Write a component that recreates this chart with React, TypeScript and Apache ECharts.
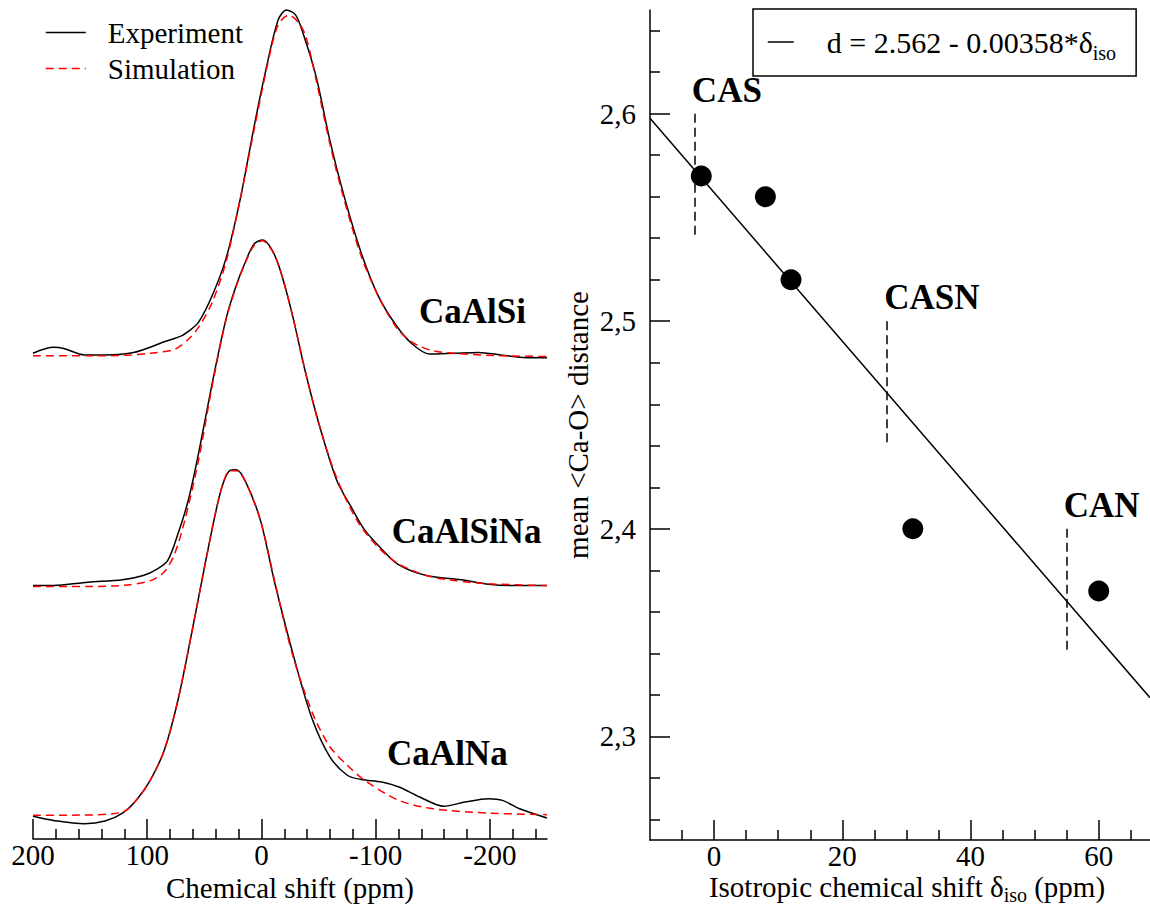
import { useEffect, useRef } from "react";
import * as echarts from "echarts";

const FONT = '"Liberation Serif", "Times New Roman", Times, serif';

// ---------- Left panel: 43Ca MAS NMR spectra ----------
const shiftTicks = [200, 100, 0, -100, -200];
const shiftMinorTicks = [180, 160, 140, 120, 80, 60, 40, 20, -20, -40, -60, -80, -120, -140, -160, -180, -220, -240];

const spectrumNames = ["CaAlSi", "CaAlSiNa", "CaAlNa"];
// vertical stacking of each trace (intensity units)
const spectrumOffsets = [57.6, 30.3, 2.9];
// anchor of each sample label: chemical shift and height above its baseline
const labelShift = [-138, -114, -110];
const labelLift = [5.3, 6.3, 7.3];

// [chemical shift (ppm), intensity]
const caAlSiExp: [number, number][] = [
  [200, 0.3], [182, 1.0], [173, 0.86], [155, 0.1], [137, 0.1], [112, 0.38], [85, 1.66], [70, 2.37],
  [64, 2.9], [55, 4.0], [43, 7.2], [31, 11.6], [19, 18.4], [6.6, 27.2], [-2.5, 33.2], [-14.5, 40.0],
  [-22, 41.2], [-30, 40.6], [-37, 38.2], [-48, 33.2], [-60, 25.6], [-72, 19.2], [-87, 12.4],
  [-102, 7.2], [-118, 3.6], [-132, 1.4], [-147, 0.2], [-169, 0.3], [-190, 0.4], [-211, 0.06],
  [-232, -0.23], [-250, -0.23],
];
const caAlSiSim: [number, number][] = [
  [200, 0], [150, 0], [120, 0.05], [97, 0.3], [76, 0.77], [64, 1.97], [55, 3.4], [43, 6.4], [31, 11.2],
  [19, 18.4], [6.6, 26.8], [-5.5, 34.8], [-14.5, 39.4], [-24, 40.6], [-33, 39.6], [-39, 38.0],
  [-48, 32.8], [-60, 25.2], [-72, 18.8], [-87, 12.0], [-102, 7.2], [-118, 3.4], [-132, 1.6],
  [-151, 0.57], [-181, 0.18], [-211, 0], [-250, -0.1],
];
const caAlSiNaExp: [number, number][] = [
  [200, -0.08], [182, -0.08], [152, 0.31], [121.6, 0.6], [103.5, 1.1], [91, 1.9], [82, 2.9], [73, 6.1],
  [64, 10.1], [55, 15.7], [43, 24.1], [31, 31.7], [22, 35.7], [14, 38.5], [6.6, 40.6], [-1, 41.1],
  [-8.5, 40.1], [-16, 37.7], [-26.5, 32.5], [-38.6, 25.3], [-50.8, 18.95], [-65.8, 12.5], [-78, 9.4],
  [-90, 6.6], [-105, 4.3], [-120, 2.4], [-144.5, 1.1], [-175, 0.6], [-199, 0.07], [-223, -0.1],
  [-250, -0.1],
];
const caAlSiNaSim: [number, number][] = [
  [200, -0.2], [150, -0.2], [120, -0.06], [97, 0.5], [85, 1.55], [76, 3.7], [67, 7.75], [55, 14.9],
  [43, 23.8], [31, 31.6], [22, 35.6], [14, 38.4], [6.6, 40.4], [-1, 41.0], [-8.5, 40.0], [-16, 37.7],
  [-26.5, 32.5], [-38.6, 25.3], [-50.8, 18.95], [-65.8, 12.75], [-84, 7.6], [-102, 4.5], [-120, 2.5],
  [-144.5, 1.1], [-169, 0.5], [-199, 0.12], [-250, -0.1],
];
const caAlNaExp: [number, number][] = [
  [200, -0.2], [182, -0.69], [155, -1.07], [137, -0.76], [121.6, 0.19], [109.6, 1.72], [97.4, 4.1],
  [85, 7.7], [73, 13.7], [61, 21.7], [49, 30.1], [40, 36.1], [34, 39.3], [27.8, 41.0], [21.8, 41.1],
  [12.6, 39.3], [0.5, 34.9], [-11.5, 27.7], [-29.7, 18.1], [-44.7, 11.3], [-59.9, 6.9], [-75.1, 4.7],
  [-87.2, 4.2], [-105.3, 3.9], [-120.4, 3.3], [-138.6, 2.1], [-159.8, 1.0], [-177.9, 1.5], [-199, 1.9],
  [-211, 1.7], [-226, 0.7], [-250, -0.4],
];
const caAlNaSim: [number, number][] = [
  [200, -0.08], [160, -0.05], [121.6, 0.3], [109.6, 1.72], [97.4, 4.1], [85, 7.7], [73, 13.7], [61, 21.7],
  [49, 30.1], [40, 36.1], [34, 39.3], [27.8, 41.0], [21.8, 41.0], [12.6, 39.3], [0.5, 34.9],
  [-11.5, 27.9], [-26.7, 19.3], [-44.7, 12.1], [-59.9, 8.1], [-75.1, 5.9], [-90.2, 4.1],
  [-120.4, 1.7], [-150.7, 0.7], [-199, 0.19], [-250, 0],
];

const experiments = [caAlSiExp, caAlSiNaExp, caAlNaExp];
const simulations = [caAlSiSim, caAlSiNaSim, caAlNaSim];

// ---------- Right panel: Ca-O distance vs isotropic shift ----------
const isoShift = [-2, 8, 12, 31, 60];
const meanDistance = [2.57, 2.56, 2.52, 2.4, 2.37];
const fitIntercept = 2.562;
const fitSlope = -0.00358;

const glassNames = ["CAS", "CASN", "CAN"];
const glassShift = [-3, 27, 55];
const glassTop = [2.6, 2.5, 2.4];
const glassSpan = 0.06;

const isoTicks = [0, 20, 40, 60];
const isoMinorTicks = [-5, 5, 10, 15, 25, 30, 35, 45, 50, 55, 65];
const distTicks = [2.3, 2.4, 2.5, 2.6];
const distMinorTicks = [2.26, 2.28, 2.32, 2.34, 2.36, 2.38, 2.42, 2.44, 2.46, 2.48, 2.52, 2.54, 2.56, 2.58, 2.62, 2.64];

const ISO_MIN = -10;
const ISO_MAX = 68;

const black = "#000";
const red = "#ff0000";

const tickText = { color: black, fontFamily: FONT, fontSize: 29 };

function mainAxis(extra: any) {
  return {
    type: "value",
    splitLine: { show: false },
    axisLine: { show: true, onZero: false, lineStyle: { color: black, width: 1.5 } },
    nameMoveOverlap: false,
    ...extra,
  };
}

function minorAxis(extra: any, values: number[]) {
  return {
    type: "value",
    splitLine: { show: false },
    axisLine: { show: false, onZero: false },
    axisTick: { show: true, inside: true, length: 10, customValues: values, lineStyle: { color: black, width: 1.5 } },
    axisLabel: { show: false },
    ...extra,
  };
}

function buildOption(): any {
  const series: any[] = [];

  experiments.forEach((trace, i) => {
    series.push({
      type: "line",
      name: "Experiment",
      xAxisIndex: 0,
      yAxisIndex: 0,
      data: trace.map(([p, v]) => [p, v + spectrumOffsets[i]]),
      symbol: "none",
      smooth: 0.3,
      lineStyle: { color: black, width: 1.5 },
      itemStyle: { color: black },
      z: 3,
      silent: true,
    });
  });
  simulations.forEach((trace, i) => {
    series.push({
      type: "line",
      name: "Simulation",
      xAxisIndex: 0,
      yAxisIndex: 0,
      data: trace.map(([p, v]) => [p, v + spectrumOffsets[i]]),
      symbol: "none",
      smooth: 0.3,
      lineStyle: { color: red, width: 1.5, type: [8, 5] },
      itemStyle: { color: red },
      z: 4,
      silent: true,
    });
  });

  const boldLabel = {
    show: true,
    formatter: "{b}",
    color: black,
    opacity: 1,
    fontFamily: FONT,
    fontSize: 35,
    fontWeight: "bold",
  };

  // sample names beside each trace
  series.push({
    type: "scatter",
    xAxisIndex: 0,
    yAxisIndex: 0,
    symbolSize: 0,
    silent: true,
    itemStyle: { opacity: 1 },
    data: spectrumNames.map((n, i) => ({ name: n, value: [labelShift[i], spectrumOffsets[i] + labelLift[i]] })),
    label: { ...boldLabel, position: "right", distance: 0 },
  });

  // linear fit
  series.push({
    type: "line",
    name: "fit",
    xAxisIndex: 2,
    yAxisIndex: 1,
    data: [ISO_MIN, ISO_MAX].map((x) => [x, fitIntercept + fitSlope * x]),
    symbol: "none",
    lineStyle: { color: black, width: 1.5 },
    itemStyle: { color: black },
    silent: true,
  });

  // measured points
  series.push({
    type: "scatter",
    xAxisIndex: 2,
    yAxisIndex: 1,
    symbol: "circle",
    symbolSize: 21,
    itemStyle: { color: black, opacity: 1 },
    data: isoShift.map((x, i) => [x, meanDistance[i]]),
    silent: true,
    z: 5,
  });

  // composition markers
  series.push({
    type: "lines",
    coordinateSystem: "cartesian2d",
    xAxisIndex: 2,
    yAxisIndex: 1,
    polyline: false,
    silent: true,
    lineStyle: { color: black, width: 1.5, type: [9, 5], opacity: 1 },
    data: glassNames.map((n, i) => ({
      coords: [
        [glassShift[i], glassTop[i]],
        [glassShift[i], glassTop[i] - glassSpan],
      ],
    })),
  });
  series.push({
    type: "scatter",
    xAxisIndex: 2,
    yAxisIndex: 1,
    symbolSize: 0,
    silent: true,
    itemStyle: { opacity: 1 },
    data: glassNames.map((n, i) => ({ name: n, value: [glassShift[i], glassTop[i]] })),
    label: { ...boldLabel, position: "top", align: "left", distance: 6, offset: [-3, 0] },
  });

  const fitText = `d = ${fitIntercept} - ${Math.abs(fitSlope)}*δ`;

  return {
    animation: false,
    backgroundColor: "#fff",
    textStyle: { fontFamily: FONT, color: black },
    grid: [
      { left: 33, right: 603, top: 0, bottom: 69, outerBoundsMode: "none" },
      { left: 650, right: 0, top: 10, bottom: 68, outerBoundsMode: "none" },
    ],
    xAxis: [
      mainAxis({
        gridIndex: 0,
        min: -250,
        max: 200,
        inverse: true,
        position: "bottom",
        axisTick: { show: true, inside: true, length: 20, customValues: shiftTicks, lineStyle: { color: black, width: 1.5 } },
        axisLabel: { ...tickText, lineHeight: 26, margin: 3, customValues: shiftTicks },
        name: "Chemical shift (ppm)",
        nameLocation: "middle",
        nameGap: 34,
        nameTextStyle: { color: black, fontFamily: FONT, fontSize: 29, lineHeight: 30 },
      }),
      minorAxis({ gridIndex: 0, min: -250, max: 200, inverse: true, position: "bottom" }, shiftMinorTicks),
      mainAxis({
        gridIndex: 1,
        min: ISO_MIN,
        max: ISO_MAX,
        position: "bottom",
        axisTick: { show: true, inside: true, length: 20, customValues: isoTicks, lineStyle: { color: black, width: 1.5 } },
        axisLabel: { ...tickText, lineHeight: 26, margin: 3, customValues: isoTicks },
        name: "{a|Isotropic chemical shift δ}{s|iso}{a| (ppm)}",
        nameLocation: "middle",
        nameGap: 32,
        nameTextStyle: {
          padding: [0, 0, 0, 14],
          rich: {
            a: { color: black, fontFamily: FONT, fontSize: 29, lineHeight: 30 },
            s: { color: black, fontFamily: FONT, fontSize: 20, lineHeight: 30, padding: [16, 0, 0, 0] },
          },
        },
      }),
      minorAxis({ gridIndex: 1, min: ISO_MIN, max: ISO_MAX, position: "bottom" }, isoMinorTicks),
    ],
    yAxis: [
      { gridIndex: 0, type: "value", min: 0, max: 100, show: false, splitLine: { show: false } },
      mainAxis({
        gridIndex: 1,
        min: 2.25,
        max: 2.65,
        position: "left",
        axisTick: { show: true, inside: true, length: 20, customValues: distTicks, lineStyle: { color: black, width: 1.5 } },
        axisLabel: {
          ...tickText,
          margin: 14,
          customValues: distTicks,
          formatter: (v: number) => v.toFixed(1).replace(".", ","),
        },
        name: "mean <Ca-O> distance",
        nameLocation: "middle",
        nameGap: 58,
        nameTextStyle: { color: black, fontFamily: FONT, fontSize: 29 },
      }),
      minorAxis({ gridIndex: 1, min: 2.25, max: 2.65, position: "left" }, distMinorTicks),
    ],
    legend: [
      {
        data: ["Experiment", "Simulation"],
        orient: "vertical",
        left: 45,
        top: 18,
        padding: 0,
        itemWidth: 40,
        itemHeight: 14,
        itemGap: 7,
        selectedMode: false,
        lineStyle: { width: 1.5 },
        itemStyle: { opacity: 0 },
        formatter: (name: string) => `{t|${name}}`,
        textStyle: {
          rich: { t: { color: black, fontFamily: FONT, fontSize: 29, lineHeight: 28, padding: [0, 0, 0, 17] } },
        },
      },
      {
        data: ["fit"],
        left: 753,
        top: 9,
        padding: [12, 20, 13, 14],
        borderColor: black,
        borderWidth: 1.5,
        itemWidth: 26,
        itemHeight: 14,
        selectedMode: false,
        lineStyle: { width: 1.5 },
        itemStyle: { opacity: 0 },
        formatter: () => `{a|${fitText}}{s|iso}`,
        textStyle: {
          rich: {
            a: { color: black, fontFamily: FONT, fontSize: 30, lineHeight: 30, padding: [0, 0, 0, 28] },
            s: { color: black, fontFamily: FONT, fontSize: 20, lineHeight: 30, padding: [22, 0, 0, 0] },
          },
        },
      },
    ],
    series,
  };
}

export default function App() {
  const ref = useRef<HTMLDivElement>(null);
  useEffect(() => {
    if (!ref.current) return;
    const chart = echarts.init(ref.current, null, { renderer: "svg" });
    chart.setOption(buildOption());
    return () => chart.dispose();
  }, []);
  return (
    <div
      ref={ref}
      style={{ position: "fixed", left: 0, top: 0, width: 1150, height: 908, background: "#fff" }}
    />
  );
}
